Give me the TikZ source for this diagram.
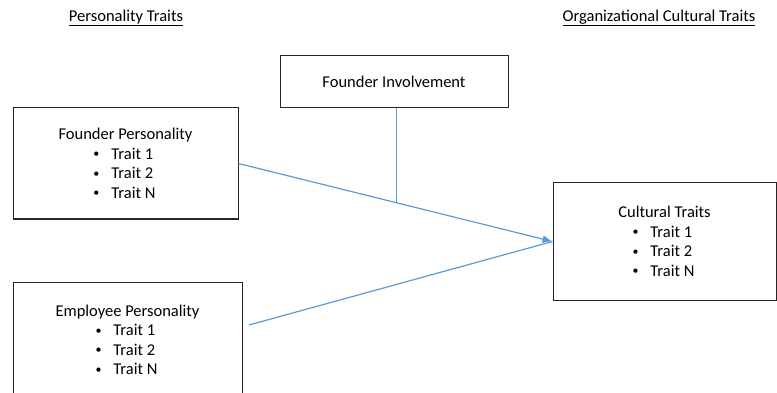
\documentclass[tikz,border=0pt]{standalone}
\usepackage{fontspec}
\setmainfont{Carlito}
\usepackage{xcolor}
\usepackage{tikz}
\usetikzlibrary{arrows.meta}
\definecolor{linkblue}{RGB}{91,155,213}
\definecolor{boxgrey}{RGB}{38,38,38}

\tikzset{
  traitbox/.style={draw=boxgrey, line width=1pt, inner sep=0pt, align=center,
    font=\fontsize{16.5}{19.5}\selectfont},
  heading/.style={font=\fontsize{16.5}{19.5}\selectfont},
  link/.style={draw=linkblue, line width=1.2pt}
}
\newcommand{\bulletline}[1]{\makebox[64pt][l]{\raisebox{1.5pt}{\fontsize{12}{12}\selectfont\textbullet}\hspace{12pt}#1}}
\newcommand{\traitlist}[1]{#1\\ \bulletline{Trait 1}\\ \bulletline{Trait 2}\\ \bulletline{Trait N}}

\begin{document}
\begin{tikzpicture}[x=1pt, y=-1pt]
  \clip (0,0) rectangle (777,393);
  \useasboundingbox (0,0) rectangle (777,393);

  % column headings
  \node[heading] (perhead) at (126,18) {\underline{Personality Traits}};
  \node[heading] (orghead) at (659,18) {\underline{Organizational Cultural Traits}};

  % boxes
  \node[traitbox, minimum width=228pt, minimum height=52pt] (involve)
    at (394,82) {Founder Involvement};
  \node[traitbox, minimum width=225pt, minimum height=111pt] (founder)
    at (125.5,163.5) {\traitlist{Founder Personality}};
  \node[traitbox, minimum width=229pt, minimum height=116pt] (employee)
    at (127.5,340) {\traitlist{Employee Personality}};
  \node[traitbox, minimum width=223pt, minimum height=117pt] (culture)
    at (664.5,241.5) {\traitlist{Cultural Traits}};

  % connectors
  \coordinate (empout) at (249,325);
  \draw[link, -{Latex[length=10pt, width=8pt]}] (founder.east)
    -- coordinate[pos=0.502] (meet) (culture.west);
  \draw[link] (empout) -- (culture.west);
  \draw[link] (meet |- involve.south) -- (meet);
\end{tikzpicture}
\end{document}
